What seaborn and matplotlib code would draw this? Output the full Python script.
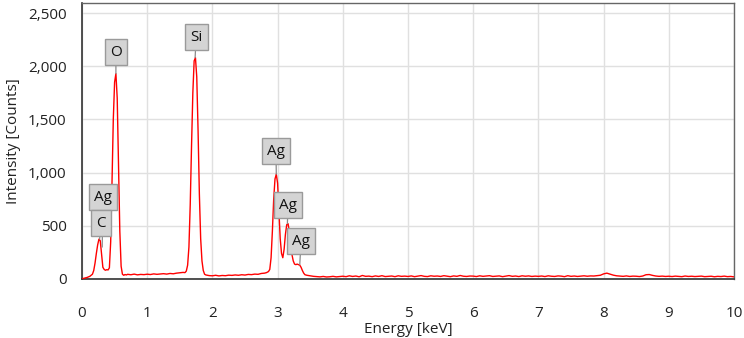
import matplotlib
matplotlib.use("Agg")
import matplotlib.pyplot as plt
from matplotlib.ticker import MultipleLocator, FuncFormatter
import seaborn as sns
import pandas as pd
import numpy as np

# ---- data ----
energy_low = [0.00, 0.02, 0.04, 0.06, 0.08, 0.10, 0.12, 0.14, 0.16, 0.18,
              0.20, 0.22, 0.24, 0.26, 0.28, 0.30, 0.32, 0.34, 0.36, 0.38,
              0.40, 0.42, 0.44, 0.46, 0.48, 0.50, 0.52, 0.54, 0.56, 0.58,
              0.60, 0.62, 0.64, 0.66, 0.68, 0.70]
counts_low = [0, 5, 8, 12, 15, 20, 25, 35, 45, 80,
              150, 240, 320, 375, 360, 230, 110, 90, 82, 88,
              85, 105, 350, 900, 1500, 1850, 1930, 1700, 1100, 450,
              120, 45, 35, 42, 38, 44]

energy_mid = [0.75, 0.80, 0.85, 0.90, 0.95, 1.00, 1.05, 1.10, 1.15, 1.20,
              1.25, 1.30, 1.35, 1.40, 1.45, 1.50, 1.55, 1.58, 1.60, 1.62,
              1.64, 1.66, 1.68, 1.70, 1.72, 1.74, 1.76, 1.78, 1.80, 1.82,
              1.84, 1.86, 1.88, 1.90, 1.95, 2.00, 2.05, 2.10, 2.15, 2.20,
              2.25, 2.30, 2.35, 2.40, 2.45, 2.50, 2.55, 2.60, 2.65, 2.70,
              2.75, 2.80, 2.83]
counts_mid = [40, 46, 39, 43, 41, 45, 42, 48, 44, 47,
              50, 46, 52, 49, 55, 58, 62, 60, 75, 130,
              300, 700, 1250, 1750, 2050, 2080, 1900, 1400, 800, 380,
              170, 80, 45, 38, 32, 30, 35, 29, 33, 31,
              36, 34, 38, 35, 40, 37, 43, 41, 46, 44,
              52, 55, 60]

energy_ag = [2.86, 2.88, 2.90, 2.92, 2.94, 2.96, 2.98, 3.00, 3.02, 3.04,
             3.06, 3.08, 3.10, 3.12, 3.14, 3.16, 3.18, 3.20, 3.22, 3.24,
             3.26, 3.28, 3.30, 3.32, 3.34, 3.36, 3.38, 3.40, 3.42, 3.45,
             3.50, 3.55]
counts_ag = [70, 90, 200, 450, 750, 940, 985, 900, 650, 380,
             240, 200, 280, 420, 510, 520, 450, 330, 230, 170,
             140, 135, 140, 135, 130, 110, 80, 55, 40, 35,
             30, 25]

energy_high = [round(3.60 + 0.05 * i, 2) for i in range(129)]
counts_high = [22, 20, 24, 19, 21, 25, 20, 23,
               26, 22, 30, 24, 28, 21, 33, 25, 27, 22, 29, 24, 31, 23, 26, 28, 22, 30, 25, 27,
               24, 29, 22, 27, 32, 25, 23, 30, 26, 28, 24, 31, 27, 22, 29, 25, 33, 26, 24, 28,
               27, 23, 30, 25, 28, 31, 24, 26, 29, 22, 27, 32, 25, 28, 23, 30, 26, 29, 24, 27,
               25, 28, 23, 30, 26, 24, 29, 27, 22, 31, 25, 28, 24, 27, 30, 26, 29, 28, 32, 35,
               48, 55, 45, 36, 30, 27, 25, 29, 24, 27, 26, 23, 28, 40, 42, 34, 28, 25, 27, 24,
               26, 23, 27, 25, 22, 28, 24, 26, 23, 25, 27, 22, 24, 26, 21, 25, 23, 27, 22, 24,
               20]

# peak labels: text, peak position, label box position
label_text = ["O", "Si", "Ag", "C", "Ag", "Ag", "Ag"]
label_peak_e = [0.52, 1.735, 0.31, 0.27, 2.98, 3.15, 3.34]
label_peak_c = [1930, 2080, 300, 375, 985, 520, 135]
label_box_e = [0.52, 1.75, 0.32, 0.29, 2.975, 3.16, 3.36]
label_box_c = [2133, 2274, 770, 526, 1203, 695, 357]

df = pd.DataFrame({
    "Energy": energy_low + energy_mid + energy_ag + energy_high,
    "Counts": counts_low + counts_mid + counts_ag + counts_high,
})

# ---- style ----
sns.set_style("white")
plt.rcParams["font.family"] = ["Open Sans", "DejaVu Sans"]

fig = plt.figure(figsize=(7.44, 3.38), dpi=100)
ax = fig.add_axes([82 / 744, 59 / 338, 652 / 744, 276 / 338])

sns.lineplot(data=df, x="Energy", y="Counts", ax=ax, color="#ff0000",
             linewidth=1.0, estimator=None, sort=False, zorder=3)

ax.set_xlim(0, 10)
ax.set_ylim(0, 2594)
ax.xaxis.set_major_locator(MultipleLocator(1))
ax.xaxis.set_minor_locator(MultipleLocator(0.2))
ax.yaxis.set_major_locator(MultipleLocator(500))
ax.yaxis.set_minor_locator(MultipleLocator(100))
ax.yaxis.set_major_formatter(FuncFormatter(lambda v, p: f"{int(v):,}"))

ax.grid(True, which="major", color="#e0e0e0", linewidth=1.0, zorder=0)
ax.set_axisbelow(True)

ax.tick_params(axis="x", which="major", direction="out", length=11.5, width=1.0,
               color="#333333", labelsize=11, pad=8, labelcolor="#222222")
ax.tick_params(axis="x", which="minor", direction="out", length=5.8, width=1.0,
               color="#333333")
ax.tick_params(axis="y", which="major", direction="out", length=7.2, width=1.0,
               color="#333333", labelsize=11, pad=4, labelcolor="#222222")
ax.tick_params(axis="y", which="minor", direction="out", length=3.6, width=1.0,
               color="#333333")

for side in ["left", "bottom"]:
    ax.spines[side].set_color("#333333")
    ax.spines[side].set_linewidth(1.2)
for side in ["top", "right"]:
    ax.spines[side].set_color("#666666")
    ax.spines[side].set_linewidth(1.0)

ax.set_xlabel("Energy [keV]", fontsize=11, color="#222222", labelpad=0.5)
ax.set_ylabel("Intensity [Counts]", fontsize=11, color="#222222", labelpad=5)

for t, pe, pc, be, bc in zip(label_text, label_peak_e, label_peak_c,
                             label_box_e, label_box_c):
    ax.annotate(t, xy=(pe, pc), xytext=(be, bc), ha="center", va="center",
                fontsize=11, color="#111111", zorder=5,
                bbox=dict(boxstyle="square,pad=0.35", fc="#d4d4d4", ec="#9a9a9a", lw=1.0),
                arrowprops=dict(arrowstyle="-", color="#8a8a8a", lw=0.9,
                                shrinkA=0, shrinkB=0))

fig.savefig("out.png", dpi=100)
